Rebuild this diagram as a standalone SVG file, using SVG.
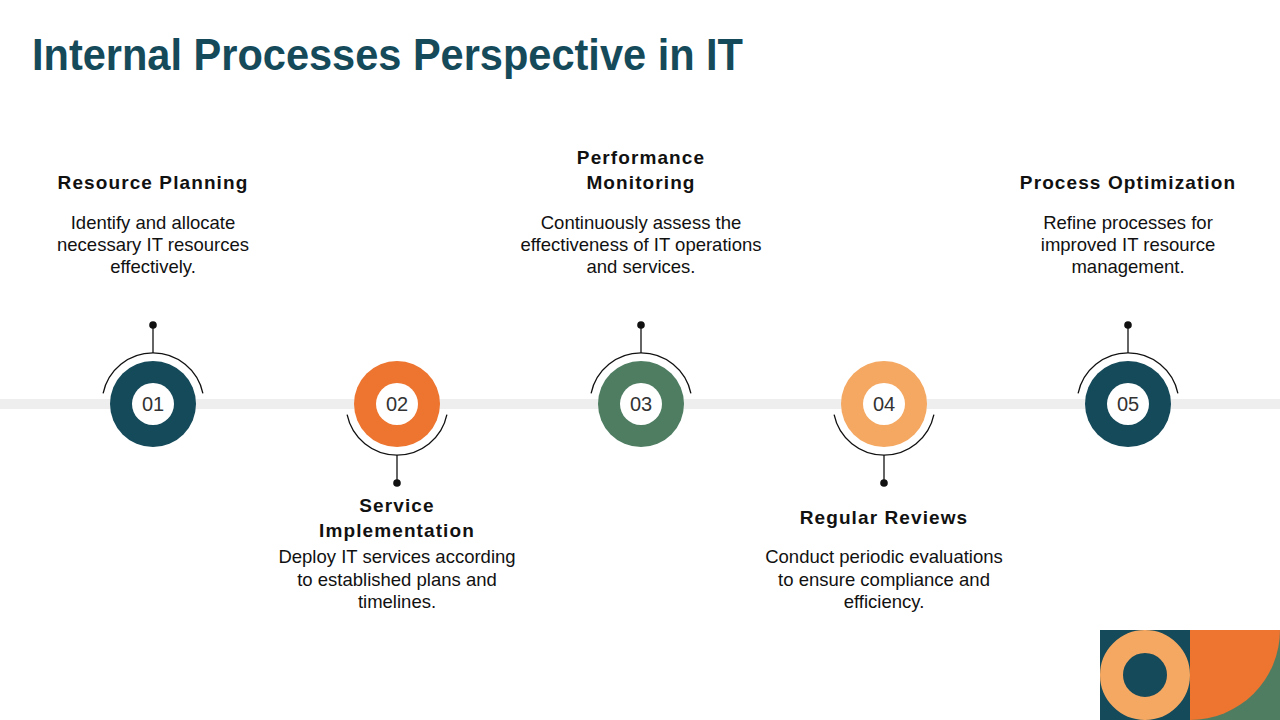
<svg xmlns="http://www.w3.org/2000/svg" width="1280" height="720" viewBox="0 0 1280 720">
<style>
.title{font-family:"Liberation Sans",Arial,sans-serif;font-weight:bold;font-size:44px;fill:#154a5a}
.head{font-family:"Liberation Sans",Arial,sans-serif;font-weight:bold;font-size:19px;fill:#111;text-anchor:middle;letter-spacing:1.1px}
.body{font-family:"Liberation Sans",Arial,sans-serif;font-size:18.5px;fill:#111;text-anchor:middle}
.num{font-family:"Liberation Sans",Arial,sans-serif;font-size:20px;fill:#333;text-anchor:middle}
.arc{fill:none;stroke:#111;stroke-width:1.3}
.stem{stroke:#111;stroke-width:1.3}
.dot{fill:#111}
.hole{fill:#fff}
</style>
<rect width="1280" height="720" fill="#fff"/>
<text class="title" x="32" y="70" textLength="711" lengthAdjust="spacingAndGlyphs">Internal Processes Perspective in IT</text>
<rect x="0" y="399" width="1280" height="10" fill="#eeeeee"/>
<g id="connectors">
<path class="arc" d="M103.1,393.4 A51,51 0 0 1 202.9,393.4"/>
<line class="stem" x1="153" y1="353" x2="153" y2="325"/>
<circle class="dot" cx="153" cy="325" r="3.8"/>
<path class="arc" d="M347.1,414.6 A51,51 0 0 0 446.9,414.6"/>
<line class="stem" x1="397" y1="455" x2="397" y2="483"/>
<circle class="dot" cx="397" cy="483" r="3.8"/>
<path class="arc" d="M591.1,393.4 A51,51 0 0 1 690.9,393.4"/>
<line class="stem" x1="641" y1="353" x2="641" y2="325"/>
<circle class="dot" cx="641" cy="325" r="3.8"/>
<path class="arc" d="M834.1,414.6 A51,51 0 0 0 933.9,414.6"/>
<line class="stem" x1="884" y1="455" x2="884" y2="483"/>
<circle class="dot" cx="884" cy="483" r="3.8"/>
<path class="arc" d="M1078.1,393.4 A51,51 0 0 1 1177.9,393.4"/>
<line class="stem" x1="1128" y1="353" x2="1128" y2="325"/>
<circle class="dot" cx="1128" cy="325" r="3.8"/>
</g>
<g id="node1">
<circle cx="153" cy="404" r="43" fill="#154a5a"/>
<circle class="hole" cx="153" cy="404" r="21"/>
<text class="num" x="153" y="411">01</text>
<text class="head" x="153" y="189">Resource Planning</text>
<text class="body" x="153" y="229">Identify and allocate</text>
<text class="body" x="153" y="251">necessary IT resources</text>
<text class="body" x="153" y="273">effectively.</text>
</g>
<g id="node2">
<circle cx="397" cy="404" r="43" fill="#ed7530"/>
<circle class="hole" cx="397" cy="404" r="21"/>
<text class="num" x="397" y="411">02</text>
<text class="head" x="397" y="512">Service</text>
<text class="head" x="397" y="537">Implementation</text>
<text class="body" x="397" y="563">Deploy IT services according</text>
<text class="body" x="397" y="586">to established plans and</text>
<text class="body" x="397" y="608">timelines.</text>
</g>
<g id="node3">
<circle cx="641" cy="404" r="43" fill="#4e7d62"/>
<circle class="hole" cx="641" cy="404" r="21"/>
<text class="num" x="641" y="411">03</text>
<text class="head" x="641" y="164">Performance</text>
<text class="head" x="641" y="189">Monitoring</text>
<text class="body" x="641" y="229">Continuously assess the</text>
<text class="body" x="641" y="251">effectiveness of IT operations</text>
<text class="body" x="641" y="273">and services.</text>
</g>
<g id="node4">
<circle cx="884" cy="404" r="43" fill="#f4a862"/>
<circle class="hole" cx="884" cy="404" r="21"/>
<text class="num" x="884" y="411">04</text>
<text class="head" x="884" y="524">Regular Reviews</text>
<text class="body" x="884" y="563">Conduct periodic evaluations</text>
<text class="body" x="884" y="586">to ensure compliance and</text>
<text class="body" x="884" y="608">efficiency.</text>
</g>
<g id="node5">
<circle cx="1128" cy="404" r="43" fill="#154a5a"/>
<circle class="hole" cx="1128" cy="404" r="21"/>
<text class="num" x="1128" y="411">05</text>
<text class="head" x="1128" y="189">Process Optimization</text>
<text class="body" x="1128" y="229">Refine processes for</text>
<text class="body" x="1128" y="251">improved IT resource</text>
<text class="body" x="1128" y="273">management.</text>
</g>
<g id="corner">
<rect x="1100" y="630" width="90" height="90" fill="#154a5a"/>
<circle cx="1145" cy="675" r="33.5" fill="none" stroke="#f4a862" stroke-width="23"/>
<rect x="1190" y="630" width="90" height="90" fill="#4e7d62"/>
<path d="M1190,630 L1280,630 A90,90 0 0 1 1190,720 Z" fill="#ed7530"/>
</g>
</svg>
